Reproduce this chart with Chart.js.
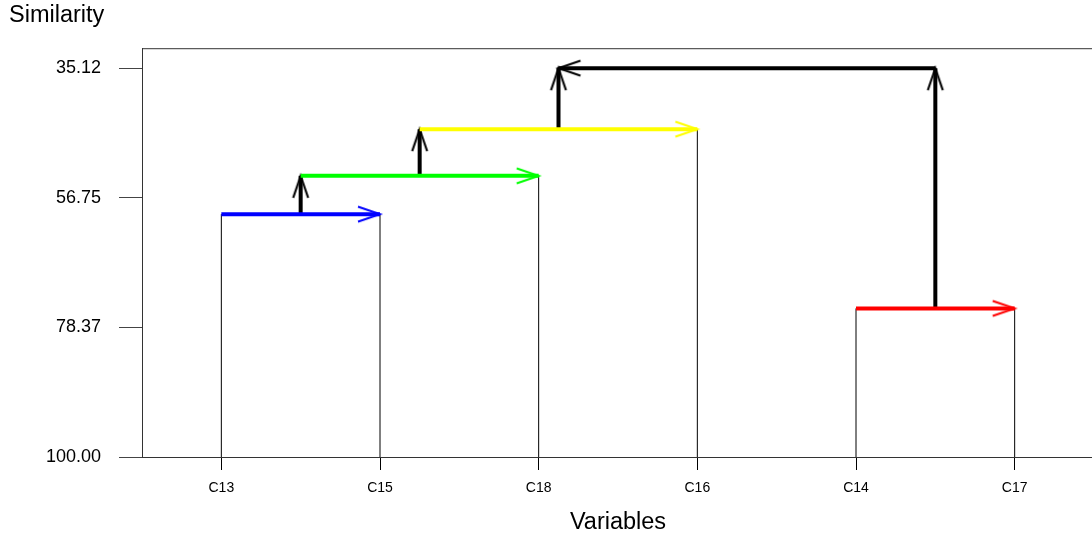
<!DOCTYPE html>
<html>
<head>
<meta charset="utf-8">
<script src="https://cdn.jsdelivr.net/npm/chart.js@4"></script>
<style>
  html, body { margin: 0; padding: 0; background: #fff; overflow: hidden; }
  #wrap { width: 1092px; height: 542px; overflow: hidden; position: relative; }
  canvas { position: absolute; left: 0; top: 0; }
</style>
</head>
<body>
<div id="wrap"><canvas id="myChart" width="1100" height="542"></canvas></div>
<script>
// leaves in dendrogram order
const variables = ["C13", "C15", "C18", "C16", "C14", "C17"];
// merges M1..M5: first child, second child, similarity level, colour
const mergeFrom = ["C13", "M1", "M2", "C14", "M4"];
const mergeTo = ["C15", "C18", "C16", "C17", "M3"];
const mergeSimilarity = [59.47, 53.08, 45.29, 75.2, 35.12];
const mergeColors = ["#0000ff", "#00ff00", "#ffff00", "#ff0000", "#000000"];
const yTicks = [35.12, 56.75, 78.37, 100.0];

const mergeNames = mergeFrom.map((_, i) => "M" + (i + 1));

function nodeX(name) {
  const leaf = variables.indexOf(name);
  if (leaf >= 0) return leaf;
  const i = mergeNames.indexOf(name);
  return (nodeX(mergeFrom[i]) + nodeX(mergeTo[i])) / 2;
}
function nodeLevel(name) {
  const i = mergeNames.indexOf(name);
  return i >= 0 ? mergeSimilarity[i] : 100;
}
function parentOf(name) {
  for (let i = 0; i < mergeNames.length; i++) {
    if (mergeFrom[i] === name || mergeTo[i] === name) return mergeNames[i];
  }
  return null;
}

// open chevron used as point style, tip at the centre pointing right
function chevron(color) {
  const c = document.createElement("canvas");
  c.width = 48;
  c.height = 48;
  const g = c.getContext("2d");
  g.strokeStyle = color;
  g.lineWidth = 2;
  g.beginPath();
  g.moveTo(2, 16.5);
  g.lineTo(24, 24);
  g.lineTo(2, 31.5);
  g.stroke();
  return c;
}

const datasets = [];

// thin leaf stems
variables.forEach((v) => {
  datasets.push({
    data: [{ x: nodeX(v), y: 100 }, { x: nodeX(v), y: nodeLevel(parentOf(v)) }],
    borderColor: "#000",
    borderWidth: 1,
    pointRadius: 0,
    order: 3,
  });
});

// coloured horizontal arrows
mergeNames.forEach((m, i) => {
  const x0 = nodeX(mergeFrom[i]);
  const x1 = nodeX(mergeTo[i]);
  const arrow = chevron(mergeColors[i]);
  datasets.push({
    data: [{ x: x0, y: mergeSimilarity[i] }, { x: x1, y: mergeSimilarity[i] }],
    borderColor: mergeColors[i],
    borderWidth: 4,
    pointRadius: [0, 1],
    pointBorderWidth: 0,
    pointStyle: [arrow, arrow],
    pointRotation: [0, x1 > x0 ? 0 : 180],
    order: 1,
  });
});

// black upward arrows between merge levels
const upArrow = chevron("#000");
mergeNames.forEach((m) => {
  const p = parentOf(m);
  if (!p) return;
  datasets.push({
    data: [{ x: nodeX(m), y: nodeLevel(m) }, { x: nodeX(m), y: nodeLevel(p) }],
    borderColor: "#000",
    borderWidth: 4,
    pointRadius: [0, 1],
    pointBorderWidth: 0,
    pointStyle: [upArrow, upArrow],
    pointRotation: [0, -90],
    order: 2,
  });
});

datasets.forEach((d) => {
  d.showLine = true;
  d.tension = 0;
});

const plotBox = {
  id: "plotBox",
  beforeDatasetsDraw(chart) {
    const { ctx, chartArea: a } = chart;
    ctx.save();
    ctx.strokeStyle = "#333";
    ctx.lineWidth = 1;
    ctx.strokeRect(a.left + 0.5, a.top + 0.5, a.right - a.left, a.bottom - a.top);
    ctx.restore();
  },
};

const ctx = document.getElementById("myChart").getContext("2d");
const myChart = new Chart(ctx, {
  type: "scatter",
  data: { datasets: datasets },
  plugins: [plotBox],
  options: {
    responsive: false,
    animation: false,
    events: [],
    layout: { padding: { left: 9, right: 6, top: 0, bottom: 0 } },
    scales: {
      x: {
        type: "linear",
        min: -0.5,
        max: 5.5,
        afterBuildTicks: (scale) => {
          scale.ticks = variables.map((_, i) => ({ value: i }));
        },
        afterFit: (scale) => {
          scale.height = 85;
        },
        ticks: {
          autoSkip: false,
          maxRotation: 0,
          padding: 10,
          color: "#000",
          font: { family: "Liberation Sans", size: 14 },
          callback: (v) => variables[v],
        },
        grid: { drawOnChartArea: false, tickLength: 13, color: "#000" },
        border: { color: "#333" },
        title: {
          display: true,
          text: "Variables",
          color: "#000",
          font: { family: "Liberation Sans", size: 23.5 },
          padding: { top: 0, bottom: 5 },
        },
      },
      y: {
        type: "linear",
        reverse: true,
        min: 31.78,
        max: 100,
        afterBuildTicks: (scale) => {
          scale.ticks = yTicks.map((v) => ({ value: v }));
        },
        afterFit: (scale) => {
          scale.width = 133;
        },
        ticks: {
          padding: 18,
          color: "#000",
          font: { family: "Liberation Sans", size: 18 },
          callback: (v) => v.toFixed(2),
        },
        grid: { drawOnChartArea: false, tickLength: 23, color: "#444" },
        border: { color: "#333" },
      },
    },
    plugins: {
      legend: { display: false },
      tooltip: { enabled: false },
      title: {
        display: true,
        text: "Similarity",
        align: "start",
        color: "#000",
        font: { family: "Liberation Sans", size: 23.5, weight: "normal" },
        padding: { top: 1, bottom: 19 },
      },
    },
  },
});
</script>
</body>
</html>
